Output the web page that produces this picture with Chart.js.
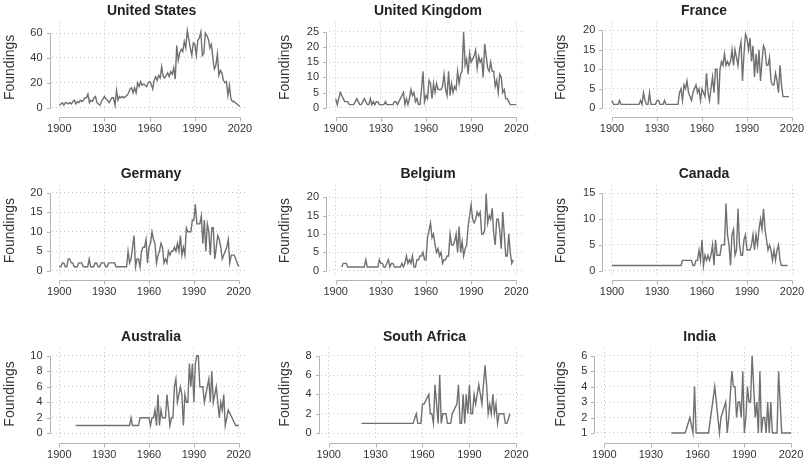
<!DOCTYPE html>
<html>
<head>
<meta charset="utf-8">
<script src="https://cdn.jsdelivr.net/npm/chart.js@4.4.1/dist/chart.umd.min.js"></script>
<style>
  html, body { margin: 0; padding: 0; background: #fff; }
  #wrap { position: relative; width: 804px; height: 466px; overflow: hidden; }
  #wrap canvas { position: absolute; }
</style>
</head>
<body>
<div id="wrap"></div>
<script>
// Foundings per year, one small panel per country

const countries = ['United States', 'United Kingdom', 'France', 'Germany', 'Belgium', 'Canada', 'Australia', 'South Africa', 'India'];
const firstYears = [1900, 1900, 1900, 1900, 1904, 1900, 1911, 1921, 1943];

const usFoundings = [
  2, 3, 4, 2, 4, 4, 3, 4, 3, 5,
  6, 3, 5, 4, 6, 5, 6, 8, 8, 11,
  4, 6, 5, 8, 9, 4, 3, 2, 5, 7,
  9, 7, 6, 4, 6, 8, 8, 2, 14, 6,
  9, 8, 9, 8, 9, 10, 12, 15, 16, 12,
  16, 12, 20, 17, 21, 18, 19, 18, 17, 20,
  21, 19, 15, 22, 25, 22, 26, 24, 33, 25,
  24, 26, 28, 25, 29, 27, 32, 23, 50, 38,
  44, 47, 45, 53, 48, 62, 55, 48, 42, 52,
  51, 42, 54, 56, 61, 42, 44, 60, 58, 55,
  48, 51, 40, 31, 34, 43, 26, 30, 28, 22,
  20, 21, 10, 18, 7, 5, 5, 4, 3, 2,
  1
];

const ukFoundings = [
  3, 1, 3, 5, 4, 3, 2, 2, 2, 1,
  1, 1, 1, 2, 3, 2, 1, 1, 2, 3,
  2, 1, 1, 3, 1, 2, 1, 2, 2, 1,
  1, 1, 1, 2, 1, 1, 1, 1, 1, 2,
  2, 1, 2, 3, 4, 5, 1, 3, 1, 3,
  6, 4, 5, 2, 3, 1, 1, 6, 12, 2,
  4, 3, 9, 8, 3, 8, 5, 8, 6, 6,
  6, 7, 11, 6, 4, 12, 4, 8, 5, 7,
  6, 12, 8, 11, 12, 25, 14, 16, 11, 18,
  15, 16, 17, 19, 13, 17, 15, 16, 10, 21,
  17, 13, 12, 15, 12, 12, 7, 9, 5, 11,
  10, 5, 6, 3, 3, 2, 1, 1, 1, 1,
  1
];

const franceFoundings = [
  2, 1, 1, 1, 1, 2, 1, 1, 1, 1,
  1, 1, 1, 1, 1, 1, 1, 1, 1, 2,
  1, 4, 2, 1, 1, 4, 1, 1, 1, 1,
  2, 2, 1, 1, 1, 2, 1, 1, 1, 1,
  1, 1, 1, 1, 1, 4, 5, 2, 6, 5,
  7, 4, 3, 2, 4, 5, 6, 4, 5, 2,
  5, 4, 3, 9, 4, 2, 5, 8, 4, 10,
  10, 1, 10, 12, 11, 14, 11, 12, 11, 12,
  15, 11, 15, 13, 11, 15, 17, 7, 14, 19,
  18, 15, 18, 12, 16, 8, 14, 9, 15, 7,
  12, 16, 15, 11, 11, 13, 7, 6, 6, 9,
  7, 4, 11, 6, 3, 3, 3, 3, 3
];

const germanyFoundings = [
  1, 1, 2, 2, 1, 1, 3, 3, 2, 2,
  1, 1, 1, 2, 2, 2, 1, 1, 1, 1,
  3, 1, 1, 1, 2, 2, 1, 1, 2, 2,
  2, 1, 1, 2, 2, 2, 2, 2, 1, 1,
  1, 1, 1, 1, 1, 1, 5, 2, 3, 6,
  9, 1, 3, 3, 1, 5, 6, 6, 8, 2,
  6, 7, 10, 8, 7, 2, 4, 5, 7, 6,
  2, 3, 2, 5, 4, 5, 5, 6, 5, 7,
  5, 9, 4, 6, 4, 11, 10, 10, 10, 13,
  13, 17, 12, 12, 12, 14, 7, 13, 5, 12,
  10, 4, 11, 11, 3, 6, 9, 8, 6, 3,
  4, 5, 6, 8, 2, 4, 4, 4, 3, 2,
  1
];

const belgiumFoundings = [
  1, 2, 2, 2, 1, 1,
  1, 1, 1, 1, 1, 1, 1, 1, 1, 1,
  3, 1, 1, 1, 1, 1, 1, 1, 1, 3,
  2, 2, 1, 1, 2, 3, 1, 2, 2, 1,
  1, 1, 1, 1, 2, 1, 2, 4, 2, 3,
  2, 4, 1, 1, 3, 3, 4, 4, 5, 3,
  3, 9, 11, 13, 9, 10, 7, 5, 6, 4,
  5, 2, 3, 3, 4, 4, 10, 7, 7, 8,
  10, 5, 12, 5, 8, 4, 6, 7, 12, 15,
  18, 14, 13, 14, 16, 15, 16, 10, 10, 11,
  21, 13, 15, 14, 17, 10, 7, 14, 14, 11,
  6, 16, 10, 4, 4, 10, 5, 2, 3
];

const canadaFoundings = [
  1, 1, 1, 1, 1, 1, 1, 1, 1, 1,
  1, 1, 1, 1, 1, 1, 1, 1, 1, 1,
  1, 1, 1, 1, 1, 1, 1, 1, 1, 1,
  1, 1, 1, 1, 1, 1, 1, 1, 1, 1,
  1, 1, 1, 1, 1, 1, 1, 2, 2, 2,
  2, 2, 2, 2, 1, 1, 2, 2, 4, 2,
  6, 1, 3, 2, 3, 2, 3, 5, 1, 6,
  3, 3, 3, 5, 5, 5, 13, 7, 5, 1,
  7, 8, 3, 4, 12, 5, 3, 3, 6, 7,
  4, 4, 4, 5, 7, 4, 7, 5, 8, 10,
  8, 12, 8, 6, 4, 5, 4, 2, 4, 2,
  4, 5, 2, 1, 1, 1, 1, 1
];

const australiaFoundings = [
  1, 1, 1, 1, 1, 1, 1, 1, 1,
  1, 1, 1, 1, 1, 1, 1, 1, 1, 1,
  1, 1, 1, 1, 1, 1, 1, 1, 1, 1,
  1, 1, 1, 1, 1, 1, 1, 1, 2, 1,
  1, 1, 1, 1, 2, 2, 2, 2, 2, 2,
  2, 1, 2, 2, 3, 1, 5, 1, 3, 2,
  2, 2, 5, 3, 1, 2, 2, 6, 7, 4,
  5, 6, 5, 1, 5, 4, 4, 9, 6, 9,
  4, 9, 10, 10, 6, 6, 6, 4, 5, 6,
  7, 4, 8, 4, 5, 6, 4, 2, 4, 3,
  5, 1, 2, 3, null, null, null, null, 1, 1,
  1
];

const southAfricaFoundings = [
  1, 1, 1, 1, 1, 1, 1, 1, 1,
  1, 1, 1, 1, 1, 1, 1, 1, 1, 1,
  1, 1, 1, 1, 1, 1, 1, 1, 1, 1,
  1, 1, 1, 1, 1, null, 2, 1, 1, 1,
  3, 3, null, null, 4, 2, 2, 1, 5, 3,
  1, 6, 1, 2, 2, 2, 1, 1, 1, 2,
  null, null, 3, 5, 1, 1, 4, 1, 4, 2,
  5, 2, 2, 4, 3, 4, 5, 4, 3, null,
  7, 5, 2, 3, 2, 4, 2, 3, 1, 2,
  2, 2, 2, 1, 1, null, 2
];

const indiaFoundings = [
  1, 1, 1, 1, 1, 1, 1,
  1, 1, 1, null, null, 2, null, 1, 4, 1,
  1, 1, 1, 1, 1, 1, 1, 1, null, null,
  null, 4, null, null, 1, 2, null, null, 3, 1,
  2, null, 5, 4, 4, 2, 3, 3, 2, 5,
  1, 2, 4, 3, 3, 6, 4, 2, 3, 1,
  5, 1, 2, 2, 1, 3, 1, 3, 1, 1,
  1, 1, 5, null, 1, 1, 1, 1, 1, 1,
  1
];

const foundings = [usFoundings, ukFoundings, franceFoundings, germanyFoundings, belgiumFoundings,
  canadaFoundings, australiaFoundings, southAfricaFoundings, indiaFoundings];

const xTicks = [1900, 1930, 1960, 1990, 2020];
const yTicks = [
  [0, 20, 40, 60], [0, 5, 10, 15, 20, 25], [0, 5, 10, 15, 20],
  [0, 5, 10, 15, 20], [0, 5, 10, 15, 20], [0, 5, 10, 15],
  [0, 2, 4, 6, 8, 10], [0, 2, 4, 6, 8], [1, 2, 3, 4, 5, 6]
];
const yMin = [-4.26, -1.74, -1.21, -1.44, -1.53, -1.09, -0.81, -0.68, 0.57];
const yMax = [69.1, 28.3, 22.2, 21.97, 23.35, 16.61, 10.95, 8.77, 6.48];
const xMin = 1895.2, xMax = 2024.8;

// page geometry
const rowTop = [0, 163.3, 326.6];
const plotLeft = [52.1, 328.5, 604.8, 52.1, 328.5, 604.8, 52.1, 321.2, 596.8];
const plotRight = [247.2, 523.5, 799.2, 245.9, 523.5, 799.2, 245.9, 523.8, 798.5];
const labelLeft = [2, 276.7, 553, 2, 276.7, 553, 2, 276.7, 553];
const CANVAS_W = 268, CANVAS_H = 139, X_AXIS_H = 24;

Chart.defaults.font.family = '"Liberation Sans", Arial, Helvetica, sans-serif';

const axisColor = '#b3b3b3';
const gridColor = '#c2c2c2';
const textColor = '#333';

// base-graphics style axes: detached lines spanning first..last tick, plus panel title
const rAxes = {
  id: 'rAxes',
  afterDraw(chart, args, opts) {
    const { ctx, chartArea: a, scales: { x, y } } = chart;
    ctx.save();
    ctx.strokeStyle = axisColor;
    ctx.lineWidth = 1;
    ctx.beginPath();
    const ay = Math.round(a.bottom + 3.7) + 0.5;
    const xs = x.ticks.map(t => Math.round(x.getPixelForValue(t.value)) + 0.5);
    ctx.moveTo(xs[0], ay);
    ctx.lineTo(xs[xs.length - 1], ay);
    xs.forEach(px => { ctx.moveTo(px, ay); ctx.lineTo(px, ay + 4); });
    const ax = Math.round(a.left - 1.6) - 0.5;
    const ys = y.ticks.map(t => Math.round(y.getPixelForValue(t.value)) + 0.5);
    ctx.moveTo(ax, ys[0]);
    ctx.lineTo(ax, ys[ys.length - 1]);
    ys.forEach(py => { ctx.moveTo(ax, py); ctx.lineTo(ax - 3.5, py); });
    ctx.stroke();

    ctx.fillStyle = '#222';
    ctx.font = 'bold 14px ' + Chart.defaults.font.family;
    ctx.textAlign = 'center';
    ctx.textBaseline = 'middle';
    ctx.fillText(opts.text, (a.left + a.right) / 2 + 2, a.top - 10.7);
    ctx.restore();
  }
};

const wrap = document.getElementById('wrap');

function makePanel(i) {
  const col = i % 3, row = Math.floor(i / 3);
  const left = col * 268;
  const top = Math.round(rowTop[row]);
  const canvas = document.createElement('canvas');
  canvas.width = CANVAS_W;
  canvas.height = CANVAS_H;
  canvas.style.width = CANVAS_W + 'px';
  canvas.style.height = CANVAS_H + 'px';
  canvas.style.left = left + 'px';
  canvas.style.top = top + 'px';
  wrap.appendChild(canvas);

  const areaTop = rowTop[row] + 21.7 - top;
  const areaBottom = rowTop[row] + 113 - top;
  const points = foundings[i].map((v, k) => ({ x: firstYears[i] + k, y: v }));

  new Chart(canvas, {
    type: 'line',
    data: {
      datasets: [{
        data: points,
        borderColor: '#707070',
        borderWidth: 1.4,
        pointRadius: 0,
        tension: 0,
        spanGaps: true,
        fill: false
      }]
    },
    options: {
      responsive: false,
      animation: false,
      devicePixelRatio: 1,
      layout: {
        padding: {
          left: labelLeft[i] - left,
          right: left + CANVAS_W - plotRight[i],
          top: areaTop,
          bottom: CANVAS_H - areaBottom - X_AXIS_H
        }
      },
      plugins: {
        legend: { display: false },
        tooltip: { enabled: false },
        rAxes: { text: countries[i] }
      },
      scales: {
        x: {
          type: 'linear',
          min: xMin,
          max: xMax,
          afterBuildTicks: s => { s.ticks = xTicks.map(v => ({ value: v })); },
          afterFit: s => { s.height = X_AXIS_H; s.paddingLeft = 0; s.paddingRight = 0; },
          grid: { color: gridColor, lineWidth: 1, drawTicks: false },
          border: { display: false, dash: [1, 3] },
          ticks: { padding: 9.2, color: textColor, font: { size: 11 }, autoSkip: false, maxRotation: 0, callback: v => String(v) }
        },
        y: {
          min: yMin[i],
          max: yMax[i],
          afterBuildTicks: s => { s.ticks = yTicks[i].map(v => ({ value: v })); },
          afterFit: s => { s.width = plotLeft[i] - labelLeft[i]; s.paddingTop = 0; s.paddingBottom = 0; },
          grid: { color: gridColor, lineWidth: 1, drawTicks: false },
          border: { display: false, dash: [1, 3] },
          ticks: { padding: 9.5, color: textColor, font: { size: 11 }, callback: v => String(v) },
          title: { display: true, text: 'Foundings', padding: 0, color: textColor, font: { size: 14 } }
        }
      }
    },
    plugins: [rAxes]
  });
}

countries.forEach((c, i) => makePanel(i));
</script>
</body>
</html>
